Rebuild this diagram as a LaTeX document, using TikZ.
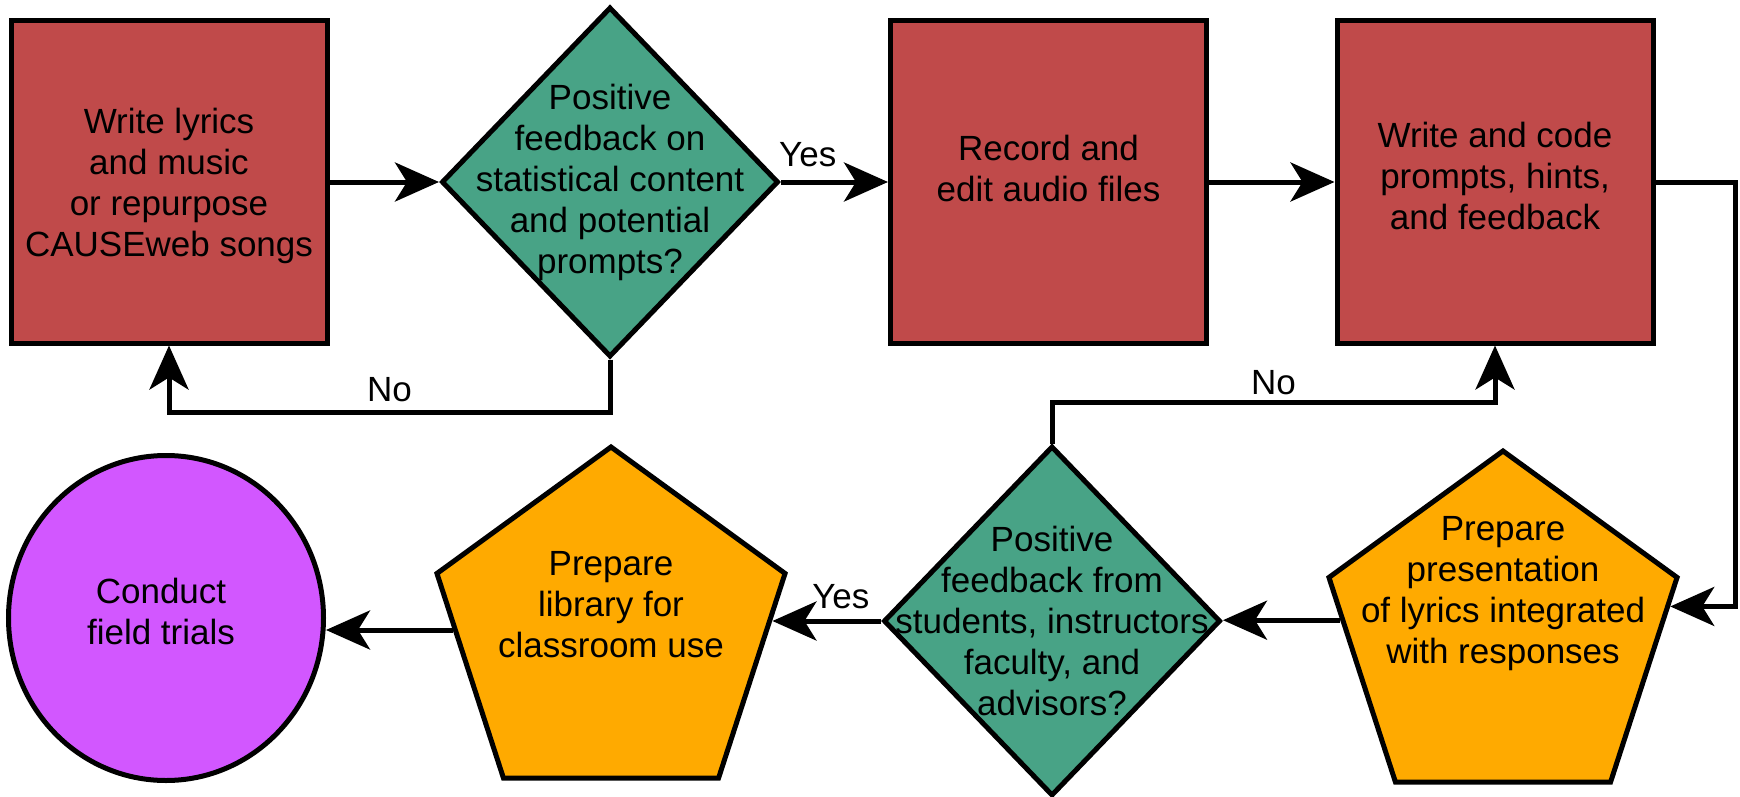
\documentclass[tikz,border=0pt]{standalone}
\usepackage{fontspec}
\setmainfont{Liberation Sans}
\usepackage{tikz}
\usetikzlibrary{
  arrows.meta,
  calc,
  positioning,
  shapes}

\definecolor{procred}{HTML}{C04A4A}
\definecolor{decgreen}{HTML}{48A386}
\definecolor{prepgold}{HTML}{FFAA00}
\definecolor{endviolet}{HTML}{D257FF}

\begin{document}
\begin{tikzpicture}[x=0.5pt,y=-0.5pt,
    font=\fontsize{17.5pt}{20.5pt}\selectfont,
    every label/.style={align=center},
    proc/.style={draw,line width=2.5pt,fill=procred,rectangle,
      minimum width=158pt,minimum height=161pt},
    dec/.style={draw,line width=2.5pt,fill=decgreen,diamond,
      minimum width=168.5pt,minimum height=175pt},
    prep/.style={draw,line width=2.5pt,fill=prepgold,regular polygon,
      regular polygon sides=5,minimum size=183pt},
    term/.style={draw,line width=2.5pt,fill=endviolet,ellipse,
      minimum width=157.5pt,minimum height=162.5pt},
    arr/.style={line width=2.5pt,-{Stealth[length=22pt,width=19.5pt,inset=6pt]}},
    lbl/.style={inner sep=1pt}]
            \useasboundingbox (0,0) rectangle (1740,797);

            \node[proc,label={[yshift=-2pt]center:Write lyrics\\and music\\or repurpose\\CAUSEweb songs}] (lyrics) at (169,182) {};
            \node[dec,label={center:Positive\\feedback on\\statistical content\\and potential\\prompts?}] (fbone) at (610,182) {};
            \node[proc,label={[yshift=7pt]center:Record and\\edit audio files}] (record) at (1048.5,182) {};
            \node[proc,label={[yshift=3pt]center:Write and code\\prompts, hints,\\and feedback}] (code) at (1495,182) {};

            \node[prep,label={[yshift=20pt]center:Prepare\\presentation\\of lyrics integrated\\with responses}] (pres) at (1503,634) {};
            \node[dec,label={center:Positive\\feedback from\\students, instructors\\faculty, and\\advisors?}] (fbtwo) at (1052,621) {};
            \node[prep,label={[yshift=12.5pt]center:Prepare\\library for\\classroom use}] (lib) at (611,630) {};
            \node[term,label={[xshift=-2.5pt,yshift=3.5pt]center:Conduct\\field trials}] (trials) at (166,618) {};

            \coordinate (presin) at ($(pres.corner 5)!0.144!(pres.corner 4)$);
            \coordinate (presout) at ($(pres.corner 2)!0.21!(pres.corner 3)$);
            \coordinate (libin) at ($(lib.corner 5)!0.23!(lib.corner 4)$);

            \draw[arr] (lyrics.east) -- (fbone.west);
            \draw[arr] (fbone.east) -- node[lbl,above=5.5pt,pos=0.25] {Yes} (record.west);
            \draw[arr] (record.east) -- (code.west);
            \draw[arr] (fbone.south) -- ++(0,53) -| node[lbl,above=3pt,pos=0.25] {No} (lyrics.south);
            \draw[arr] (code.east) -- ++(80,0) |- (presin);
            \draw[arr] (presout) -- (presout -| fbtwo.east);
            \draw[arr] (fbtwo.west) -- node[lbl,above=4pt,pos=0.37] {Yes} (fbtwo.west -| libin);
            \draw[arr] (fbtwo.north) -- ++(0,-41) -| node[lbl,above=1.5pt,pos=0.25] {No} (code.south);
            \draw[arr] (lib.west) -- (lib.west -| trials.east);
        \end{tikzpicture}
\end{document}
